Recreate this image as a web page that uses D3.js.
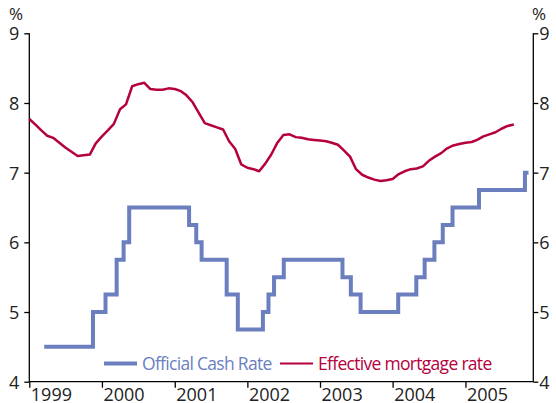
<!DOCTYPE html>
<html>
<head>
<meta charset="utf-8">
<script src="https://cdn.jsdelivr.net/npm/d3@7"></script>
<style>
  body { margin: 0; background: #fff; }
  text { font-family: "Open Sans", "Noto Sans", sans-serif; }
</style>
</head>
<body>
<div id="graphId"></div>
<script>
var wt = 556;
var ht = 403;
var margin = { top: 33.3, right: 22.7, bottom: 21.3, left: 29.3 };
var width = wt - margin.left - margin.right;
var height = ht - margin.top - margin.bottom;

var blue = "#6b7fbf";
var red = "#b5003d";

// official cash rate: date of change, new level (%)
var ocrDates = ["1999-03-17", "1999-11-17", "2000-01-19", "2000-03-15", "2000-04-19", "2000-05-17",
    "2001-03-14", "2001-04-19", "2001-05-16", "2001-09-19", "2001-11-14",
    "2002-03-20", "2002-04-17", "2002-05-15", "2002-07-03",
    "2003-04-24", "2003-06-05", "2003-07-24",
    "2004-01-29", "2004-04-29", "2004-06-10", "2004-07-29", "2004-09-09", "2004-10-28",
    "2005-03-10", "2005-10-27", "2005-11-14"];
var ocrValues = [4.5, 5.0, 5.25, 5.75, 6.0, 6.5,
    6.25, 6.0, 5.75, 5.25, 4.75,
    5.0, 5.25, 5.5, 5.75,
    5.5, 5.25, 5.0,
    5.25, 5.5, 5.75, 6.0, 6.25, 6.5,
    6.75, 7.0, 7.0];

// effective mortgage rate, monthly from Jan 1999
var mortStart = "1999-01-01";
var mortValues = [7.77, 7.69, 7.61, 7.53, 7.50, 7.43, 7.36, 7.30, 7.24, 7.25, 7.26, 7.42,
    7.52, 7.61, 7.70, 7.91, 7.98, 8.24, 8.27, 8.29, 8.20, 8.19, 8.19, 8.21,
    8.20, 8.17, 8.11, 8.01, 7.86, 7.71, 7.68, 7.65, 7.62, 7.45, 7.34, 7.12,
    7.07, 7.05, 7.02, 7.13, 7.26, 7.43, 7.54, 7.55, 7.51, 7.50, 7.48, 7.47,
    7.46, 7.45, 7.43, 7.40, 7.32, 7.23, 7.05, 6.97, 6.93, 6.90, 6.88, 6.89,
    6.91, 6.98, 7.02, 7.05, 7.06, 7.09, 7.17, 7.23, 7.28, 7.35, 7.39, 7.41,
    7.43, 7.44, 7.47, 7.52, 7.55, 7.58, 7.63, 7.67, 7.69];

var yearTicks = [1999, 2000, 2001, 2002, 2003, 2004, 2005];
var yTicks = [4, 5, 6, 7, 8, 9];

var parseDate = d3.timeParse("%Y-%m-%d");

var ocr = ocrDates.map(function (d, i) {
    return { time: parseDate(d), value: ocrValues[i] };
});
var mort = mortValues.map(function (v, i) {
    return { time: d3.timeMonth.offset(parseDate(mortStart), i), value: v };
});

var svg = d3.select("#graphId").append("svg")
    .attr("width", wt)
    .attr("height", ht);
var g = svg.append("g")
    .attr("transform", "translate(" + margin.left + "," + margin.top + ")");

var x = d3.scaleTime()
    .domain([new Date(1999, 0, 1), new Date(2005, 11, 8)])
    .range([0, width]);
var y = d3.scaleLinear()
    .domain([4, 9])
    .range([height, 0]);

// axes
var left = g.append("g")
    .attr("class", "axis")
    .call(d3.axisLeft(y).tickValues(yTicks).tickFormat(d3.format("d")).tickSize(5).tickPadding(5));
var right = g.append("g")
    .attr("class", "axis")
    .attr("transform", "translate(" + width + ",0)")
    .call(d3.axisRight(y).tickValues(yTicks).tickFormat(d3.format("d")).tickSize(5).tickPadding(1));
var bottom = g.append("g")
    .attr("class", "axis")
    .attr("transform", "translate(0," + height + ")")
    .call(d3.axisBottom(x)
        .tickValues(yearTicks.map(function (yr) { return new Date(yr, 0, 1); }))
        .tickSize(6)
        .tickFormat(d3.timeFormat("%Y")));

g.selectAll(".axis .domain")
    .attr("stroke", "#000")
    .attr("stroke-width", 1.3);
g.selectAll(".axis line").attr("stroke", "#000").attr("stroke-width", 1.3);
left.selectAll("path.domain").attr("d", "M0," + height + "V0");
right.selectAll("path.domain").attr("d", "M0," + height + "V0");
bottom.selectAll("path.domain").attr("d", "M0,0H" + width);

g.selectAll(".axis text")
    .attr("fill", "#222")
    .style("font-size", "18px")
    .style("font-family", "'Open Sans', sans-serif");
left.selectAll("text").attr("dy", "0.36em");
right.selectAll("text").attr("dy", "0.36em");
bottom.selectAll("text")
    .attr("text-anchor", "start")
    .attr("x", 1)
    .attr("y", 19.3)
    .attr("dy", 0);

// % labels
svg.append("text").attr("x", 9).attr("y", 20).text("%")
    .attr("fill", "#222").style("font-size", "17px");
svg.append("text").attr("x", 532).attr("y", 20).text("%")
    .attr("fill", "#222").style("font-size", "17px");

var line = d3.line()
    .x(function (d) { return x(d.time); })
    .y(function (d) { return y(d.value); });

g.append("path")
    .datum(mort)
    .attr("fill", "none")
    .attr("stroke", red)
    .attr("stroke-width", 2.5)
    .attr("stroke-linejoin", "round")
    .attr("d", line);

g.append("path")
    .datum(ocr)
    .attr("fill", "none")
    .attr("stroke", blue)
    .attr("stroke-width", 4)
    .attr("d", line.curve(d3.curveStepAfter));

// legend
var leg = svg.append("g");
leg.append("line")
    .attr("x1", 104).attr("x2", 137).attr("y1", 363.5).attr("y2", 363.5)
    .attr("stroke", blue).attr("stroke-width", 4);
leg.append("text")
    .attr("x", 142).attr("y", 369.5)
    .attr("fill", blue)
    .style("font-size", "17.5px")
    .style("letter-spacing", "-0.7px")
    .text("Official Cash Rate");
leg.append("line")
    .attr("x1", 280).attr("x2", 313).attr("y1", 363.5).attr("y2", 363.5)
    .attr("stroke", red).attr("stroke-width", 2);
leg.append("text")
    .attr("x", 318).attr("y", 369.5)
    .attr("fill", red)
    .style("font-size", "17.5px")
    .style("letter-spacing", "-0.7px")
    .text("Effective mortgage rate");
</script>
</body>
</html>
